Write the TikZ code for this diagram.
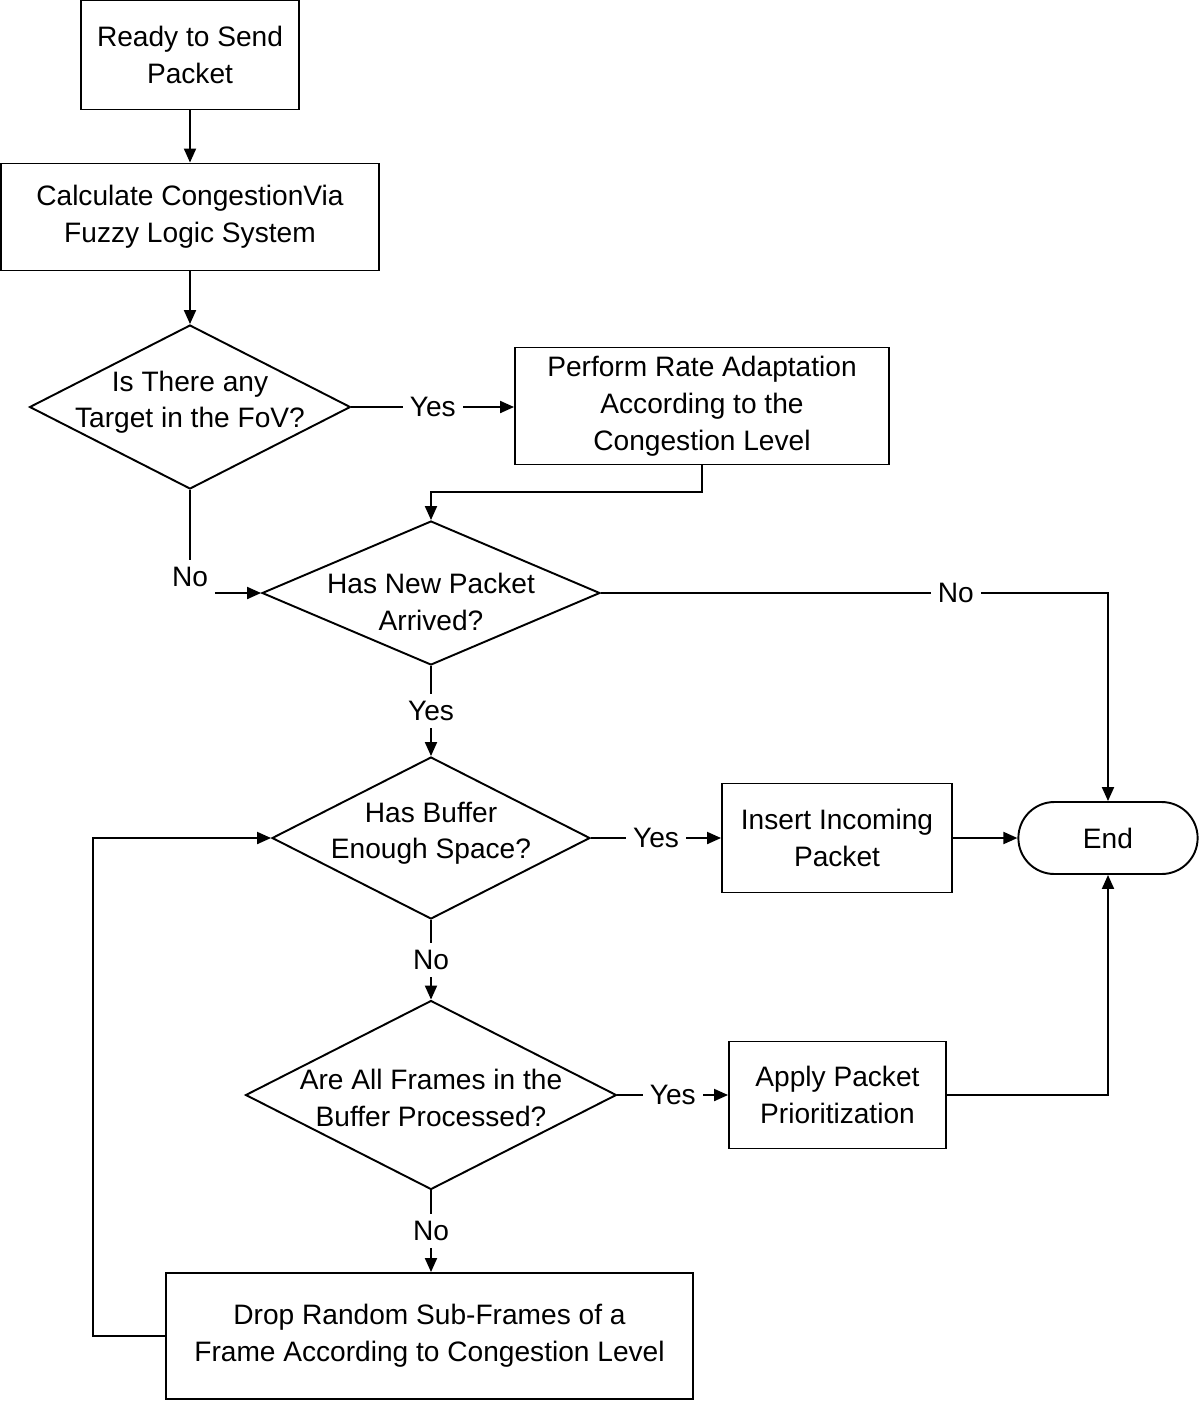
\documentclass[tikz,border=0pt]{standalone}
\usepackage{fontspec}
\setmainfont{Liberation Sans}
\usetikzlibrary{shapes.geometric,shapes.misc,arrows.meta}
\newcommand{\dtext}[2][0pt]{\raisebox{#1}[\height][\depth]{\makebox[0pt]{\begin{tabular}{@{}c@{}}#2\end{tabular}}}}

\begin{document}
\begin{tikzpicture}[x=0.02cm,y=-0.02cm,line width=1.1pt,
  every node/.append style={font=\fontsize{16}{21}\selectfont},
  stepbox/.style={draw,rectangle,align=center,inner sep=0pt},
  decision/.style={draw,diamond,inner sep=0pt},
  terminal/.style={draw,rounded rectangle,minimum width=3.82cm,minimum height=1.44cm},
  arr/.style={-{Triangle[length=2.8mm,width=2.4mm]}},
  lbl/.style={fill=white,inner sep=4pt}]
\useasboundingbox (0,0) rectangle (1200,1401);

% start
\node[stepbox,minimum width=4.36cm,minimum height=2.18cm] (ready) at (190,55) {Ready to Send\\Packet};
\node[stepbox,minimum width=7.56cm,minimum height=2.14cm] (calc) at (190,217) {Calculate CongestionVia\\Fuzzy Logic System};

% target check
\node[decision,minimum width=6.42cm,minimum height=3.28cm] (target) at (190,407) {\dtext[2.8pt]{Is There any\\Target in the FoV?}};
\node[stepbox,minimum width=7.48cm,minimum height=2.34cm] (rate) at (702,406) {Perform Rate Adaptation\\According to the\\Congestion Level};

% packet arrival
\node[decision,minimum width=6.76cm,minimum height=2.88cm] (arrived) at (431,593) {\dtext[-6.8pt]{Has New Packet\\Arrived?}};

% buffer
\node[decision,minimum width=6.36cm,minimum height=3.24cm] (space) at (431,838) {\dtext[2.8pt]{Has Buffer\\Enough Space?}};
\node[stepbox,minimum width=4.6cm,minimum height=2.18cm] (insert) at (837,838) {Insert Incoming\\Packet};
\node[terminal] (stop) at (1108,838) {End};

% frames
\node[decision,minimum width=7.42cm,minimum height=3.78cm] (frames) at (431,1095) {\dtext[-3.1pt]{Are All Frames in the\\Buffer Processed?}};
\node[stepbox,minimum width=4.34cm,minimum height=2.14cm] (prio) at (837.5,1095) {Apply Packet\\Prioritization};
\node[stepbox,minimum width=10.54cm,minimum height=2.52cm] (drop) at (429.5,1336) {Drop Random Sub-Frames of a\\Frame According to Congestion Level};

% connectors
\draw[arr] (ready) -- (calc);
\draw[arr] (calc) -- (target);
\draw[arr] (target.east) -- node[lbl]{Yes} (target.east -| rate.west);
\coordinate (join) at (431,492);
\draw[arr] (rate.south) |- (join) -- (arrived.north);
\node (nofov) at (190,577) {No};
\draw (target.south) -- (nofov.north);
\draw[arr] (nofov.east |- arrived.west) -- (arrived.west);
\draw[arr] (arrived.east) -| node[lbl,pos=0.35]{No} (stop.north);
\draw[arr] (arrived.south) -- node[lbl]{Yes} (space.north);
\draw[arr] (space.east) -- node[lbl]{Yes} (insert.west);
\draw[arr] (insert.east) -- (stop.west);
\draw[arr] (space.south) -- node[lbl]{No} (frames.north);
\draw[arr] (frames.east) -- node[lbl]{Yes} (prio.west);
\draw[arr] (prio.east) -| (stop.south);
\draw[arr] (frames.south) -- node[lbl]{No} (frames.south |- drop.north);
\coordinate (back) at (93,838);
\draw[arr] (drop.west) -| (back) -- (space.west);
\end{tikzpicture}
\end{document}
